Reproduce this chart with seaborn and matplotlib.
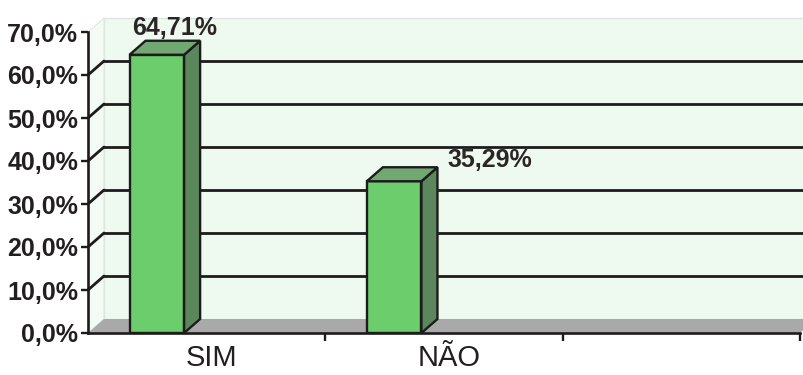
import numpy as np
import pandas as pd
import matplotlib
matplotlib.use("Agg")
import matplotlib.pyplot as plt
import seaborn as sns
from matplotlib import transforms as mtrans
from matplotlib.patches import Polygon
from matplotlib.lines import Line2D
from matplotlib.ticker import FuncFormatter, FixedLocator

# ---- data ----
categories = ["SIM", "NÃO", " "]
percent_values = [64.71, 35.29, np.nan]
value_labels = ["64,71%", "35,29%"]
y_ticks = [0, 10, 20, 30, 40, 50, 60, 70]

# ---- style ----
FRONT = "#6ccd6c"
SIDE = "#5c875c"
TOP = "#72a872"
WALL = "#eefaf0"
SIDEWALL = "#f4fbf5"
FLOOR = "#a9a9a9"
INK = "#1e1b1c"
DX, DY = 16, 14          # pseudo-3D depth offset in pixels
BAR_SHIFT = -0.21        # bar sits left of slot centre (3D projection)
LABEL_OFFSETS = [(18, 15), (96, 9)]  # pixel offsets of value labels

sns.set_theme(style="white")
plt.rcParams['font.family'] = ['Liberation Sans', 'DejaVu Sans']

W, H = 804, 375
fig = plt.figure(figsize=(W / 100, H / 100), dpi=100)
fig.patch.set_facecolor("white")
ax = fig.add_axes([88 / W, 42 / H, 712 / W, 301 / H])

df = pd.DataFrame({"cat": categories, "pct": percent_values})
sns.barplot(data=df, x="cat", y="pct", order=categories, width=0.23,
            color=FRONT, saturation=1, edgecolor=INK, linewidth=1.7,
            ax=ax, zorder=5, errorbar=None)
ax.set_xlim(-0.5, 2.5)
ax.set_ylim(0, 70)
ax.patch.set_visible(False)
ax.set_xlabel("")
ax.set_ylabel("")

ident = mtrans.IdentityTransform()


def disp(x, y):
    return ax.transData.transform((x, y))


def back(x, y):
    p = disp(x, y)
    return (p[0] + DX, p[1] + DY)


def add_poly(pts, fc, ec="none", lw=0, z=0.5):
    poly = Polygon(pts, closed=True, facecolor=fc, edgecolor=ec, linewidth=lw,
                   transform=ident, clip_on=False, zorder=z)
    ax.add_patch(poly)


x0, x1 = ax.get_xlim()
y0, y1 = ax.get_ylim()
# back wall
add_poly([back(x0, y0), back(x1, y0), back(x1, y1), back(x0, y1)], WALL,
         ec="#dde6de", lw=1.0, z=0.2)
# left wall
add_poly([disp(x0, y0), back(x0, y0), back(x0, y1), disp(x0, y1)], SIDEWALL,
         ec="#e0e7e0", lw=0.8, z=0.3)
# floor
add_poly([disp(x0, y0), disp(x1, y0), back(x1, y0), back(x0, y0)], FLOOR, z=0.4)

# gridlines on back wall + diagonals on left wall
for t in y_ticks[1:-1]:
    a, b = back(x0, t), back(x1, t)
    ax.add_line(Line2D([a[0], b[0]], [a[1], b[1]], color=INK, lw=2.0,
                       transform=ident, clip_on=False, zorder=1))
    f = disp(x0, t)
    ax.add_line(Line2D([f[0], a[0]], [f[1], a[1]], color=INK, lw=2.0,
                       transform=ident, clip_on=False, zorder=1))

# bars: shift and add 3D faces
shift = mtrans.Affine2D().translate(BAR_SHIFT, 0) + ax.transData
bars = [p for p in ax.patches if type(p).__name__ == "Rectangle"
        and np.isfinite(p.get_height()) and p.get_height() > 0 and p.get_zorder() == 5]
bars.sort(key=lambda p: p.get_x())
for i, p in enumerate(bars):
    p.set_transform(shift)
    bx0 = p.get_x() + BAR_SHIFT
    bx1 = bx0 + p.get_width()
    h = p.get_height()
    add_poly([disp(bx1, 0), back(bx1, 0), back(bx1, h), disp(bx1, h)], SIDE,
             ec=INK, lw=1.7, z=5.1)
    add_poly([disp(bx0, h), disp(bx1, h), back(bx1, h), back(bx0, h)], TOP,
             ec=INK, lw=1.7, z=5.2)
    ox, oy = LABEL_OFFSETS[i]
    ax.annotate(value_labels[i], xy=((bx0 + bx1) / 2, h), xytext=(ox * 0.72, oy * 0.72),
                textcoords="offset points", ha="center", va="bottom",
                fontsize=18, fontweight="bold", color="#2a2627", zorder=6,
                annotation_clip=False)

# axes / ticks
for s in ["top", "right"]:
    ax.spines[s].set_visible(False)
for s in ["left", "bottom"]:
    ax.spines[s].set_color(INK)
    ax.spines[s].set_linewidth(1.9)
    ax.spines[s].set_zorder(3)

ax.yaxis.set_major_locator(FixedLocator(y_ticks))
ax.yaxis.set_major_formatter(FuncFormatter(lambda v, _: f"{v:.1f}".replace(".", ",") + "%"))
ax.tick_params(axis="y", which="major", direction="out", length=5, width=1.7,
               color=INK, labelsize=18, labelcolor="#231f20", pad=2, left=True)
for lab in ax.get_yticklabels():
    lab.set_fontweight("bold")

ax.set_xticks([0, 1, 2])
ax.set_xticklabels(categories)
ax.tick_params(axis="x", which="major", length=0, labelsize=21, labelcolor="#231f20", pad=8)
ax.set_xticks([0.5, 1.5, 2.5], minor=True)
ax.tick_params(axis="x", which="minor", direction="out", length=6, width=1.7,
               color=INK, bottom=True)
# nudge category labels slightly right, as in the 3D projection
for lab in ax.get_xticklabels():
    lab.set_transform(lab.get_transform() + mtrans.Affine2D().translate(5, 0))

fig.savefig("out.png", dpi=100, facecolor="white")
